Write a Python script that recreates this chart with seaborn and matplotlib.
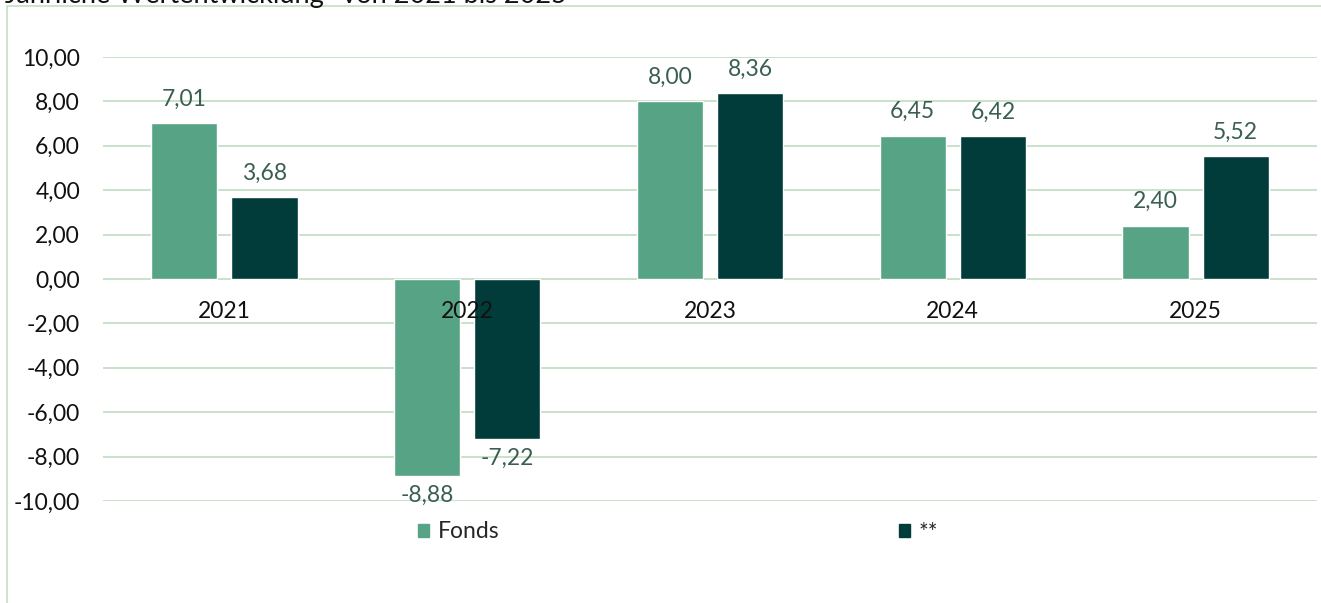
import matplotlib
matplotlib.use("Agg")
import matplotlib.pyplot as plt
import matplotlib.patches as mpatches
import seaborn as sns
import pandas as pd

# -----------------------------
# Data
# -----------------------------
years = ["2021", "2022", "2023", "2024", "2025"]
fonds = [7.01, -8.88, 8.00, 6.45, 2.40]
benchmark = [3.68, -7.22, 8.36, 6.42, 5.52]
series_names = ["Fonds", "**"]
y_ticks = [-10, -8, -6, -4, -2, 0, 2, 4, 6, 8, 10]

df = pd.DataFrame({
    "Jahr": years * 2,
    "Wert": fonds + benchmark,
    "Serie": [series_names[0]] * len(years) + [series_names[1]] * len(years),
})

light_green = "#56a386"
dark_green = "#013c3b"
grid_color = "#c5dfc6"
label_color = "#3b5e52"
fs = 16.5

sns.set_theme(style="white")
plt.rcParams["font.family"] = ["Lato", "DejaVu Sans"]

fig = plt.figure(figsize=(13.21, 6.03), dpi=100)
ax = fig.add_axes([103 / 1321, 1 - 501 / 603, 1214 / 1321, 444 / 603])

sns.barplot(data=df, x="Jahr", y="Wert", hue="Serie", order=years,
            hue_order=series_names, palette=[light_green, dark_green],
            width=0.66, gap=0.175, saturation=1, ax=ax, legend=False, zorder=3)

ax.set_ylim(-10, 10)
ax.set_xlim(-0.5, len(years) - 0.5)
ax.set_yticks(y_ticks)
ax.set_yticklabels([f"{v:.2f}".replace(".", ",") for v in y_ticks],
                   fontsize=fs, color="#111111")
ax.tick_params(axis="y", length=0, pad=16.5)
ax.set_xticks([])
ax.set_xlabel("")
ax.set_ylabel("")
ax.grid(axis="y", color=grid_color, linewidth=1.3, zorder=0)
ax.set_axisbelow(True)
for s in ax.spines.values():
    s.set_visible(False)

# year labels just under the zero line
for i, y in enumerate(years):
    ax.annotate(y, (i, 0), xytext=(0, -16), textcoords="offset points",
                ha="center", va="top", fontsize=fs, color="#111111", zorder=5)

# value labels
for container in ax.containers:
    for bar in container:
        h = bar.get_height()
        x = bar.get_x() + bar.get_width() / 2
        txt = f"{h:.2f}".replace(".", ",")
        if h >= 0:
            ax.annotate(txt, (x, h), xytext=(0, 10), textcoords="offset points",
                        ha="center", va="bottom", fontsize=fs, color=label_color)
        else:
            ax.annotate(txt, (x, h), xytext=(0, -6), textcoords="offset points",
                        ha="center", va="top", fontsize=fs, color=label_color)

# legend
handles = [mpatches.Patch(color=light_green, label=series_names[0]),
           mpatches.Patch(color=dark_green, label=series_names[1])]
fig.legend(handles=handles, loc="center left", bbox_to_anchor=(418 / 1321, 1 - 532 / 603),
           ncol=2, frameon=False, fontsize=fs, handlelength=0.5, handleheight=0.5,
           handletextpad=0.35, columnspacing=17.45, borderaxespad=0, borderpad=0)

# outer frame and cut-off title
fig.patches.append(mpatches.Rectangle((7 / 1321, -0.1), 1.1, 1.1 - 6 / 603,
                                      transform=fig.transFigure, fill=False,
                                      edgecolor=grid_color, linewidth=1.2))
fig.text(5 / 1321, 1 - 3 / 603, "Jährliche Wertentwicklung* von 2021 bis 2025",
         fontsize=19.5, color="#111111", va="baseline", ha="left")

fig.savefig("out.png", dpi=100)
